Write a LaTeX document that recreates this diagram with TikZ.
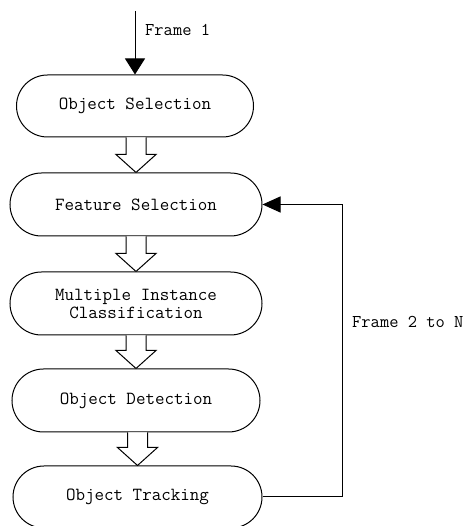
\documentclass[tikz,border=0pt]{standalone}
\usetikzlibrary{shapes.misc,arrows.meta,calc}
\tikzset{
  stage/.style={rounded rectangle, draw, line width=1pt, minimum height=62pt,
    inner sep=0pt, font=\ttfamily\fontsize{18.5}{18}\selectfont, align=center},
  blockarr/.style={draw, line width=1pt, fill=white, line join=miter},
  flow/.style={line width=1pt},
  lbl/.style={font=\ttfamily\fontsize{18}{18}\selectfont, inner sep=0pt}
}
\begin{document}
\begin{tikzpicture}[x=1pt,y=1pt]
\useasboundingbox (0,0) rectangle (466,526);
\node[stage, minimum width=237pt] (os) at (135,420) {Object Selection};
\node[stage, minimum width=252pt, minimum height=63pt] (fs) at (136,321.5) {Feature Selection};
\node[stage, minimum width=252pt, minimum height=63pt] (mic) at (136,222.5) {Multiple Instance\\Classification};
\node[stage, minimum width=248pt, minimum height=63pt] (od) at (136,125.5) {Object Detection};
\node[stage, minimum width=249pt] (ot) at (137.5,29) {Object Tracking};
\coordinate (in) at (135,515);
\coordinate (corner1) at (342,29);
\coordinate (corner2) at (342,321.5);
\newcommand\blockarrow[2]{%
  \draw[blockarr] ($(#2.north |- #1.south)+(-10,0)$) -- ($(#2.north)+(-10,18)$)
    -- ($(#2.north)+(-20,18)$) -- (#2.north) -- ($(#2.north)+(20,18)$)
    -- ($(#2.north)+(10,18)$) -- ($(#2.north |- #1.south)+(10,0)$);}
\blockarrow{os}{fs}
\blockarrow{fs}{mic}
\blockarrow{mic}{od}
\blockarrow{od}{ot}
\draw[flow,-{Triangle[length=16pt,width=20pt]}] (in) -- (os.north);
\draw[flow,-{Triangle[length=18pt,width=16pt]}] (ot.east) -- (corner1) -- (corner2) -- (fs.east);
\node[lbl, anchor=west] (f1) at (145,496) {Frame 1};
\node[lbl, anchor=west] (f2) at (352,204) {Frame 2 to N};
\end{tikzpicture}
\end{document}
